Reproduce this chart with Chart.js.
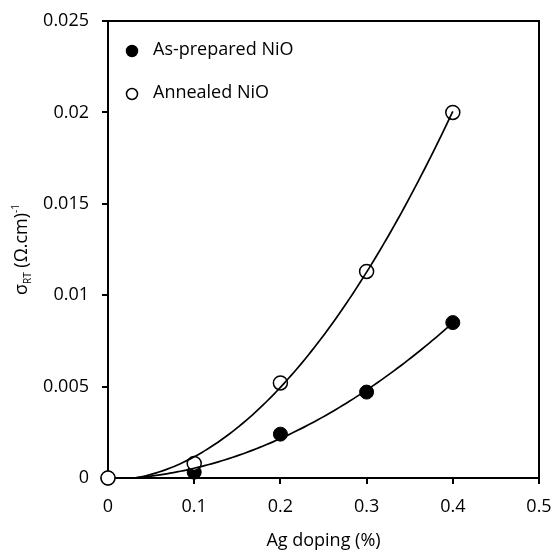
<!DOCTYPE html>
<html>
<head>
<meta charset="utf-8">
<script src="https://cdn.jsdelivr.net/npm/chart.js@4/dist/chart.umd.min.js"></script>
<style>
  html, body { margin: 0; padding: 0; background: #fff; }
  #wrap { width: 553px; height: 552px; }
</style>
</head>
<body>
<div id="wrap"><canvas id="myChart" width="553" height="552"></canvas></div>
<script>
// Ag doping (%)
var doping = [0, 0.1, 0.2, 0.3, 0.4];
// room temperature conductivity (Ω.cm)^-1
var asPrepared = [0, 0.00032, 0.0024, 0.0047, 0.0085];
var annealed   = [0, 0.0008, 0.0052, 0.0113, 0.0200];
var seriesNames = ['As-prepared NiO', 'Annealed NiO'];
// axis ticks
var xTicks = [0, 0.1, 0.2, 0.3, 0.4, 0.5];
var yTicks = [0, 0.005, 0.01, 0.015, 0.02, 0.025];

var FONT = '"Open Sans", sans-serif';

// least squares fit of order 2 (same as the polynomial trendline)
function polyFit2(xs, ys) {
  var s = [0, 0, 0, 0, 0], t = [0, 0, 0];
  for (var i = 0; i < xs.length; i++) {
    var p = 1;
    for (var k = 0; k < 5; k++) {
      s[k] += p;
      if (k < 3) t[k] += p * ys[i];
      p *= xs[i];
    }
  }
  var m = [
    [s[0], s[1], s[2], t[0]],
    [s[1], s[2], s[3], t[1]],
    [s[2], s[3], s[4], t[2]]
  ];
  for (var c = 0; c < 3; c++) {
    for (var r = c + 1; r < 3; r++) {
      var f = m[r][c] / m[c][c];
      for (var j = c; j < 4; j++) m[r][j] -= f * m[c][j];
    }
  }
  var a = [0, 0, 0];
  for (var c2 = 2; c2 >= 0; c2--) {
    var v = m[c2][3];
    for (var j2 = c2 + 1; j2 < 3; j2++) v -= m[c2][j2] * a[j2];
    a[c2] = v / m[c2][c2];
  }
  return a;
}

// sample the fitted curve over the data range
function trendPoints(xs, ys) {
  var a = polyFit2(xs, ys);
  var x0 = xs[0], x1 = xs[xs.length - 1], pts = [];
  for (var i = 0; i <= 100; i++) {
    var x = x0 + (x1 - x0) * i / 100;
    pts.push({ x: x, y: a[0] + a[1] * x + a[2] * x * x });
  }
  return pts;
}

function toPoints(xs, ys) {
  return xs.map(function (x, i) { return { x: x, y: ys[i] }; });
}

// frame, legend inside the plot and the y axis title with sub/superscript
var extras = {
  id: 'extras',
  beforeDatasetsDraw: function (chart) {
    var a = chart.chartArea, ctx = chart.ctx;
    ctx.save();
    ctx.strokeStyle = '#000';
    ctx.lineWidth = 2;
    ctx.beginPath();
    ctx.moveTo(a.left, a.top);
    ctx.lineTo(a.right, a.top);
    ctx.lineTo(a.right, a.bottom);
    ctx.stroke();
    ctx.restore();
  },
  afterDraw: function (chart) {
    var a = chart.chartArea, ctx = chart.ctx;
    ctx.save();

    // legend
    var fills = ['#000', '#fff'];
    for (var i = 0; i < seriesNames.length; i++) {
      var cy = a.top + 30 + i * 43;
      ctx.beginPath();
      ctx.arc(a.left + 24, cy, 5.5, 0, Math.PI * 2);
      ctx.fillStyle = fills[i];
      ctx.fill();
      ctx.lineWidth = 1.5;
      ctx.strokeStyle = '#000';
      ctx.stroke();
      ctx.fillStyle = '#000';
      ctx.font = '18px ' + FONT;
      ctx.textBaseline = 'middle';
      ctx.textAlign = 'left';
      ctx.fillText(seriesNames[i], a.left + 45, cy - 1);
    }

    // y title: σ_RT (Ω.cm)^-1
    var parts = [
      { t: '\u03c3', size: 18, dy: 0 },
      { t: 'RT', size: 10, dy: 4 },
      { t: ' (\u03a9.cm)', size: 18, dy: 0 },
      { t: '-1', size: 10, dy: -8 }
    ];
    var w = 0;
    parts.forEach(function (p) {
      ctx.font = p.size + 'px ' + FONT;
      p.w = ctx.measureText(p.t).width;
      w += p.w;
    });
    ctx.translate(27, (a.top + a.bottom) / 2);
    ctx.rotate(-Math.PI / 2);
    ctx.textBaseline = 'alphabetic';
    ctx.textAlign = 'left';
    ctx.fillStyle = '#000';
    var x = -w / 2;
    parts.forEach(function (p) {
      ctx.font = p.size + 'px ' + FONT;
      ctx.fillText(p.t, x, p.dy);
      x += p.w;
    });
    ctx.restore();
  }
};

var ctx = document.getElementById('myChart').getContext('2d');
var chart = new Chart(ctx, {
  type: 'scatter',
  data: {
    datasets: [
      {
        label: seriesNames[0] + ' trend',
        data: trendPoints(doping, asPrepared),
        showLine: true,
        borderColor: '#000',
        borderWidth: 1.7,
        pointRadius: 0,
        order: 0
      },
      {
        label: seriesNames[1] + ' trend',
        data: trendPoints(doping, annealed),
        showLine: true,
        borderColor: '#000',
        borderWidth: 1.7,
        pointRadius: 0,
        order: 0
      },
      {
        label: seriesNames[1],
        data: toPoints(doping, annealed),
        backgroundColor: '#fff',
        borderColor: '#000',
        borderWidth: 1.5,
        pointRadius: 7,
        clip: false,
        order: 1
      },
      {
        label: seriesNames[0],
        data: toPoints(doping, asPrepared),
        backgroundColor: '#000',
        borderColor: '#000',
        borderWidth: 1,
        pointRadius: 7,
        clip: false,
        order: 2
      }
    ]
  },
  options: {
    responsive: false,
    animation: false,
    events: [],
    layout: { padding: { left: 0, right: 14, top: 21, bottom: 0 } },
    plugins: { legend: { display: false }, tooltip: { enabled: false } },
    scales: {
      x: {
        type: 'linear',
        min: 0,
        max: 0.5,
        afterBuildTicks: function (scale) {
          scale.ticks = xTicks.map(function (v) { return { value: v }; });
        },
        afterFit: function (scale) {
          scale.height = 74;
          scale.paddingLeft = 0;
          scale.paddingRight = 0;
        },
        border: { display: true, color: '#000', width: 2 },
        grid: { drawOnChartArea: false, drawTicks: true, tickLength: 6, color: '#000', lineWidth: 2 },
        ticks: {
          color: '#000',
          font: { family: FONT, size: 18 },
          padding: 12,
          maxRotation: 0,
          callback: function (v) { return String(v); }
        },
        title: {
          display: true,
          text: 'Ag doping (%)',
          color: '#000',
          font: { family: FONT, size: 18 },
          padding: { top: 0, bottom: 0 }
        }
      },
      y: {
        type: 'linear',
        min: 0,
        max: 0.025,
        afterBuildTicks: function (scale) {
          scale.ticks = yTicks.map(function (v) { return { value: v }; });
        },
        afterFit: function (scale) {
          scale.width = 108;
          scale.paddingTop = 0;
          scale.paddingBottom = 0;
        },
        border: { display: true, color: '#000', width: 2 },
        grid: { drawOnChartArea: false, drawTicks: true, tickLength: 6, color: '#000', lineWidth: 2 },
        ticks: {
          color: '#000',
          font: { family: FONT, size: 18 },
          padding: 13,
          callback: function (v) { return String(v); }
        }
      }
    }
  },
  plugins: [extras]
});
</script>
</body>
</html>
